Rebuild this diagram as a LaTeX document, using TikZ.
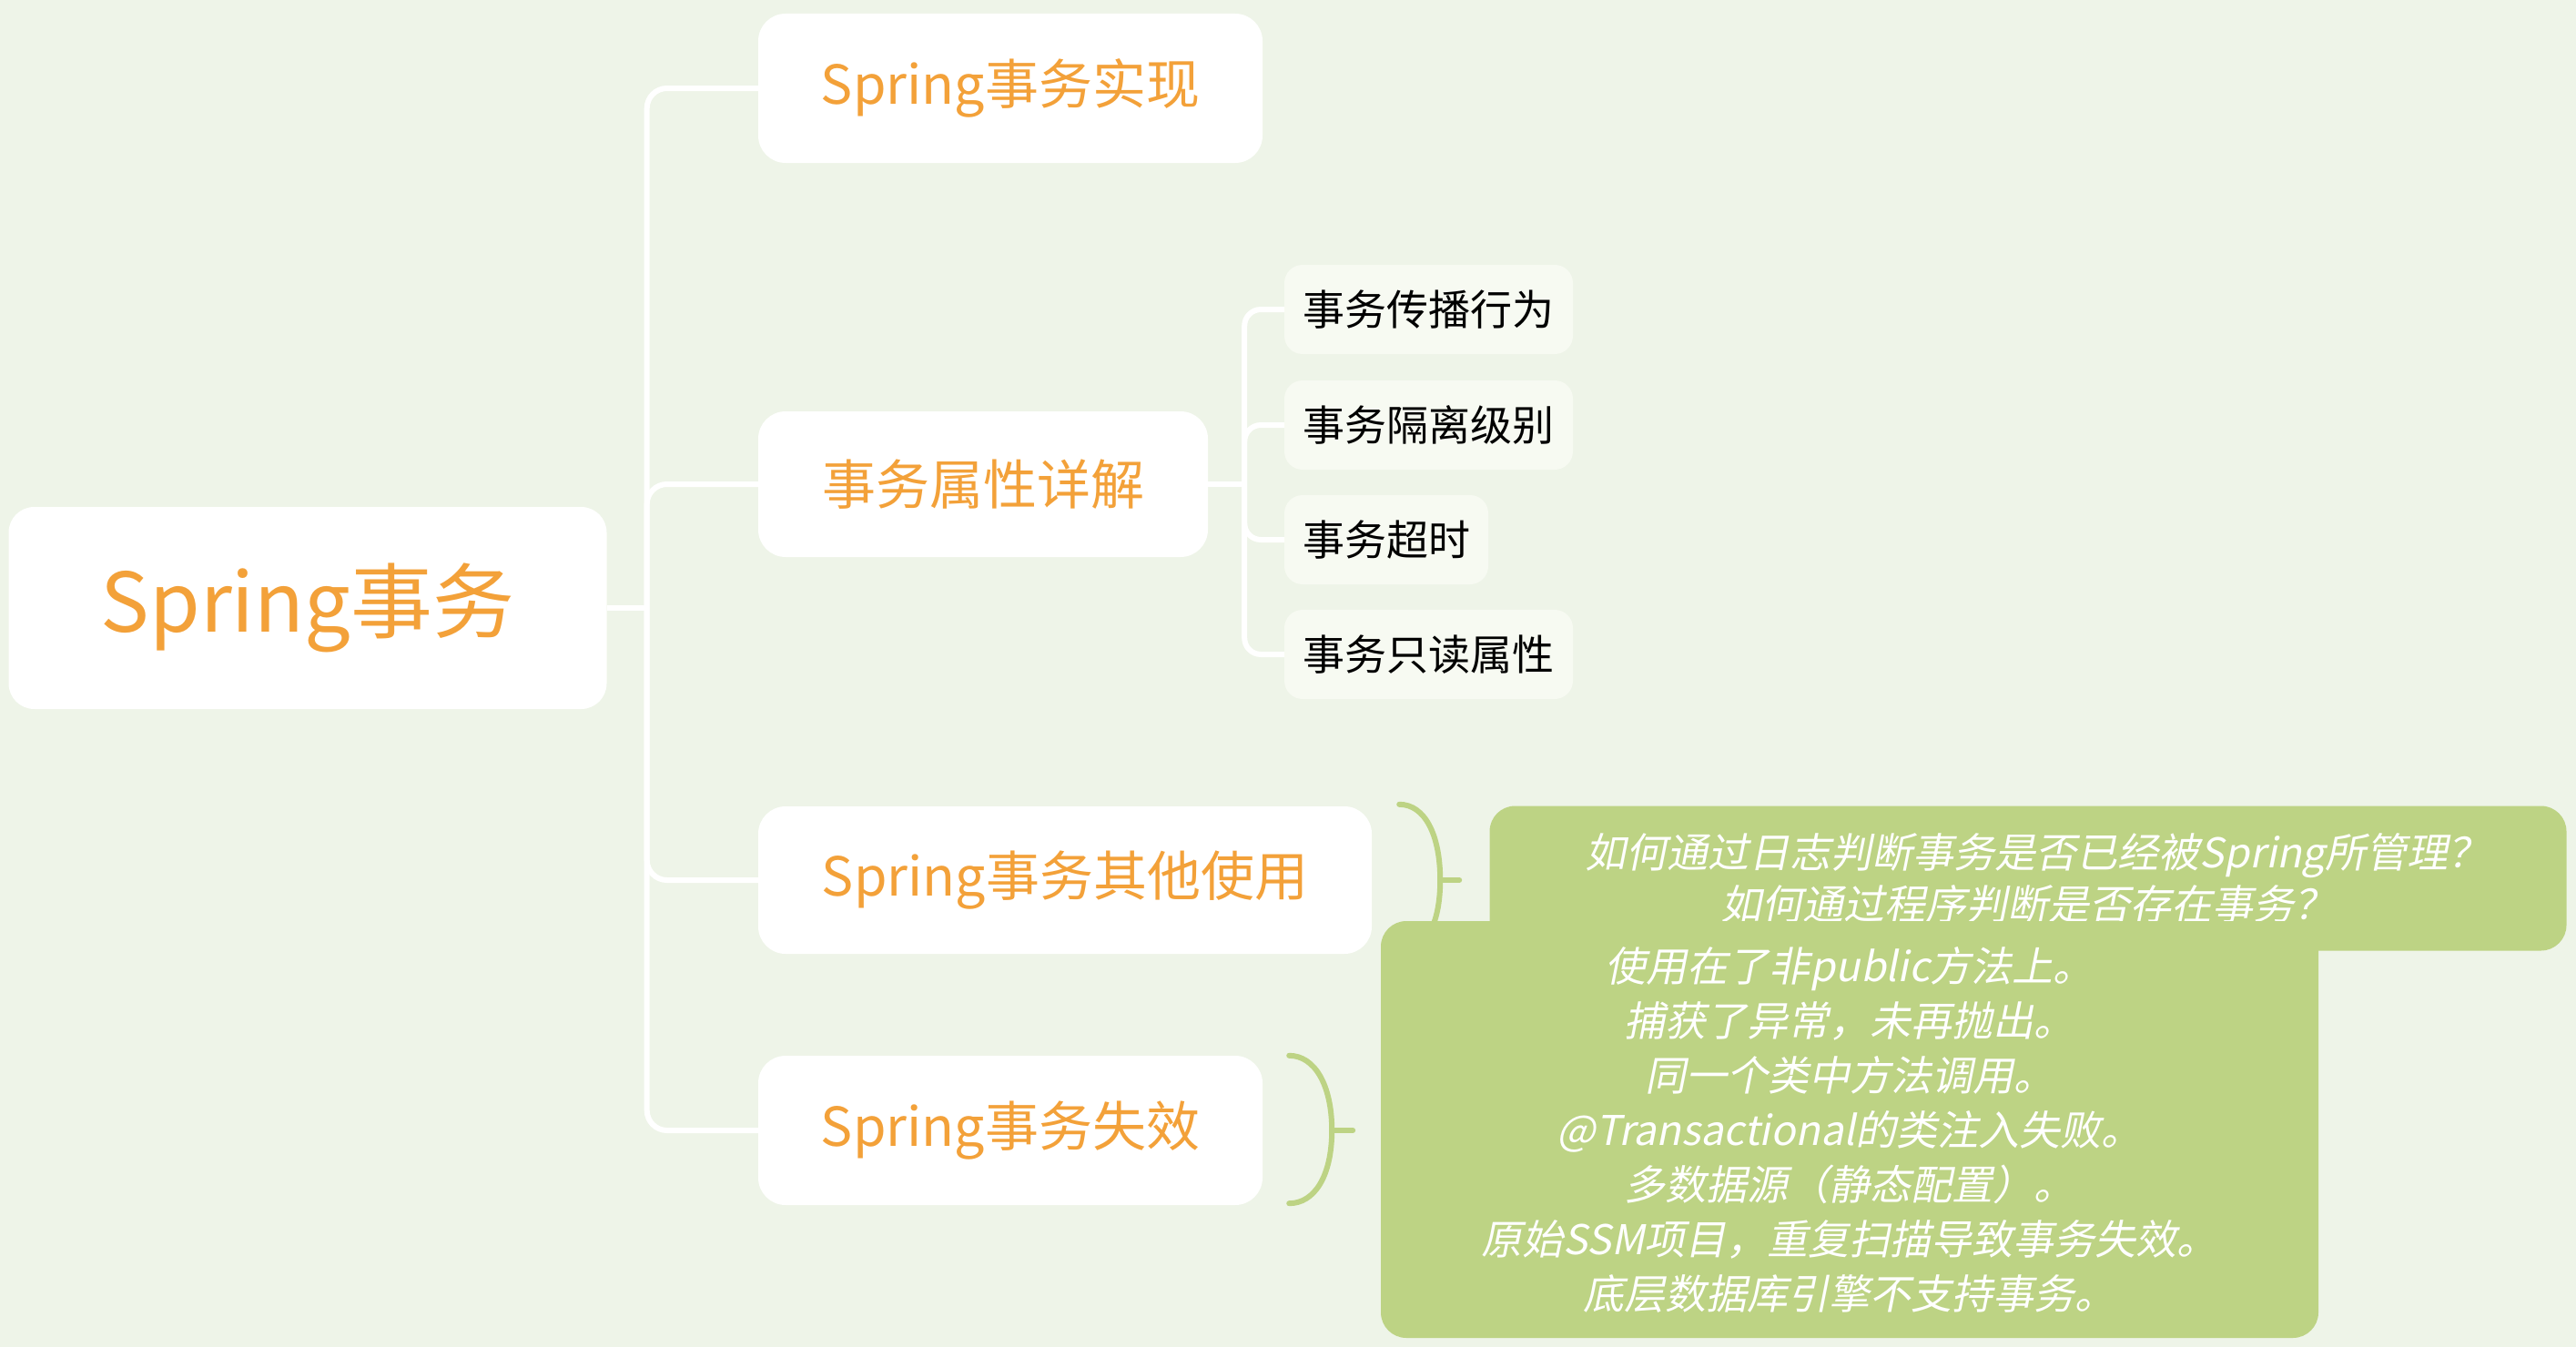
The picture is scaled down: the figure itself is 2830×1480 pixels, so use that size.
\documentclass[tikz,border=0pt]{standalone}
\usepackage{fontspec}
\setmainfont{Noto Sans CJK SC}
\newfontfamily\cjkit[FakeSlant=0.2]{Noto Sans CJK SC}
\usetikzlibrary{calc}
\definecolor{bg}{RGB}{238,244,232}
\definecolor{orangetxt}{RGB}{243,161,57}
\definecolor{notegreen}{RGB}{189,211,132}
\definecolor{leaffill}{RGB}{247,250,242}
\begin{document}
\begin{tikzpicture}[x=1pt,y=-1pt,
  conn/.style={draw=white,line width=6pt},
  rootbox/.style={fill=white,rounded corners=28pt,inner sep=0pt,text=orangetxt,
    font=\fontsize{90}{108}\selectfont},
  childbox/.style={fill=white,rounded corners=30pt,inner sep=0pt,text=orangetxt,
    font=\fontsize{59}{70}\selectfont},
  leafbox/.style={fill=leaffill,rounded corners=20pt,inner sep=0pt,text=black,
    minimum height=98pt,font=\fontsize{46}{55}\selectfont},
  notebox/.style={fill=notegreen,rounded corners=28pt,inner sep=0pt,text=white,
    align=center,font=\cjkit\fontsize{45}{57.5}\selectfont},
  bracestyle/.style={draw=notegreen,line width=6pt,line cap=round}]
\fill[bg] (0,0) rectangle (2830,1480);
\useasboundingbox (0,0) rectangle (2830,1480);

% main nodes
\node[rootbox,minimum width=657pt,minimum height=222pt] (root) at (338,668) {Spring事务};
\node[childbox,minimum width=554pt,minimum height=164pt] (c1) at (1110,97) {Spring事务实现};
\node[childbox,minimum width=494pt,minimum height=160pt] (c2) at (1080,532) {事务属性详解};
\node[childbox,minimum width=674pt,minimum height=162pt] (c3) at (1170,967) {Spring事务其他使用};
\node[childbox,minimum width=554pt,minimum height=164pt] (c4) at (1110,1242) {Spring事务失效};

% leaves
\node[leafbox,minimum width=317pt] (g1) at (1569.5,340) {事务传播行为};
\node[leafbox,minimum width=317pt] (g2) at (1569.5,467) {事务隔离级别};
\node[leafbox,minimum width=224pt] (g3) at (1523,593) {事务超时};
\node[leafbox,minimum width=317pt] (g4) at (1569.5,719) {事务只读属性};

% connectors
\coordinate (hub) at ($(root.east)+(44,0)$);
\draw[conn] (root.east) -- (hub);
\draw[conn,rounded corners=22pt] (hub) |- (c1.west);
\draw[conn,rounded corners=22pt] (hub) |- (c2.west);
\draw[conn,rounded corners=22pt] (hub) |- (c3.west);
\draw[conn,rounded corners=22pt] (hub) |- (c4.west);

\coordinate (hubb) at ($(c2.east)+(40,0)$);
\draw[conn] (c2.east) -- (hubb);
\draw[conn,rounded corners=18pt] (hubb) |- (g1.west);
\draw[conn,rounded corners=18pt] (hubb) |- (g2.west);
\draw[conn,rounded corners=18pt] (hubb) |- (g3.west);
\draw[conn,rounded corners=18pt] (hubb) |- (g4.west);

% brace for c3
\coordinate (b1top) at ($(c3.north east)+(30,-2)$);
\coordinate (b1mid) at ($(c3.east)+(75,0)$);
\coordinate (b1bot) at ($(c3.south east)+(30,-2)$);
\coordinate (b1tip) at ($(c3.east)+(96,0)$);
\draw[bracestyle] (b1top) .. controls +(28,0) and +(0,-50) .. (b1mid)
  .. controls +(0,50) and +(28,0) .. (b1bot);
\draw[bracestyle] (b1mid) -- (b1tip);

\node[notebox,minimum width=1183pt,minimum height=159pt] (n1) at (2228,965)
  {\hspace*{20pt}如何通过日志判断事务是否已经被Spring所管理？\\如何通过程序判断是否存在事务？};

% brace for c4
\coordinate (b2top) at ($(c4.north east)+(29,0)$);
\coordinate (b2mid) at ($(c4.east)+(76,0)$);
\coordinate (b2bot) at ($(c4.south east)+(29,-2)$);
\coordinate (b2tip) at ($(c4.east)+(99,0)$);
\draw[bracestyle] (b2top) .. controls +(28,0) and +(0,-50) .. (b2mid)
  .. controls +(0,50) and +(28,0) .. (b2bot);
\draw[bracestyle] (b2mid) -- (b2tip);

\node[notebox,minimum width=1030pt,minimum height=458pt,
  font=\cjkit\fontsize{45}{60}\selectfont] (n2) at (2032,1241)
  {使用在了非public方法上。\\捕获了异常，未再抛出。\\同一个类中方法调用。\\@Transactional的类注入失败。\\多数据源（静态配置）。\\原始SSM项目，重复扫描导致事务失效。\\底层数据库引擎不支持事务。};
\end{tikzpicture}
\end{document}
